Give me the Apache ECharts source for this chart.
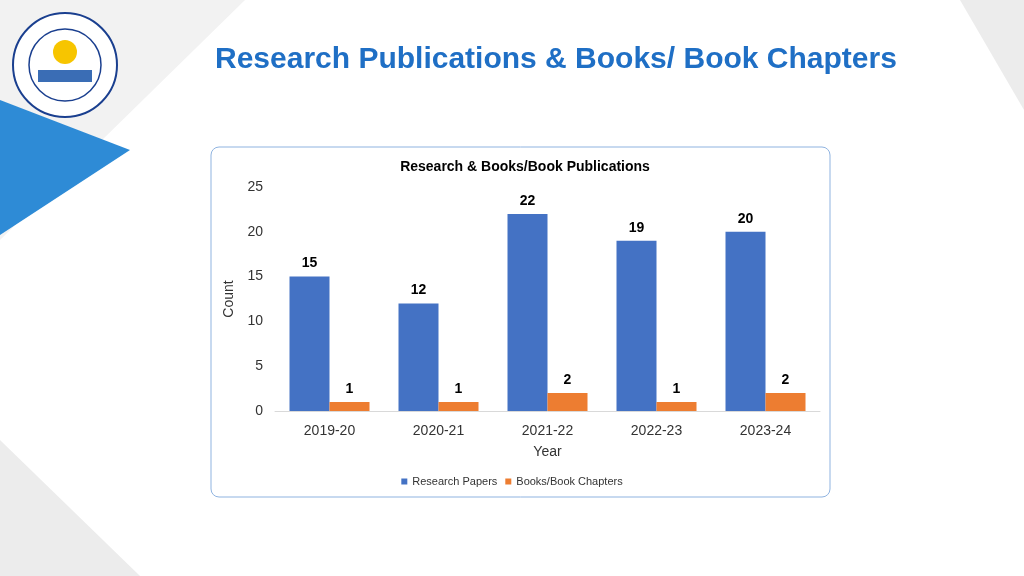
<!DOCTYPE html>
<html><head><meta charset="utf-8">
<script src="https://cdn.jsdelivr.net/npm/echarts@6/dist/echarts.min.js"></script>
<style>html,body{margin:0;padding:0;background:#fff}#c{width:1024px;height:576px}</style>
</head><body><div id="c"></div>
<script>
const categories=['2019-20','2020-21','2021-22','2022-23','2023-24'];
const researchPapers=[15,12,22,19,20];
const books=[1,1,2,1,2];
const chart=echarts.init(document.getElementById('c'));
const F='Liberation Sans, Arial, sans-serif';
chart.setOption({
 animation:false,
 graphic:[
  {type:'polygon',shape:{points:[[0,0],[245,0],[0,240]]},style:{fill:'#f2f2f2'},z:-10},
  {type:'polygon',shape:{points:[[0,100],[130,150],[0,235]]},style:{fill:'#2E8BD6'},z:-9},
  {type:'polygon',shape:{points:[[960,0],[1024,0],[1024,110]]},style:{fill:'#ececec'},z:-10},
  {type:'polygon',shape:{points:[[0,440],[140,576],[0,576]]},style:{fill:'#ececec'},z:-10},
  {type:'circle',shape:{cx:65,cy:65,r:52},style:{fill:'#fff',stroke:'#1a3f8f',lineWidth:2}},
  {type:'circle',shape:{cx:65,cy:65,r:36},style:{fill:'#fff',stroke:'#1a3f8f',lineWidth:1.5}},
  {type:'circle',shape:{cx:65,cy:52,r:12},style:{fill:'#F7C500'}},
  {type:'rect',shape:{x:38,y:70,width:54,height:12},style:{fill:'#3a6db5'}},
  {type:'text',left:215,top:45,style:{text:'Research Publications & Books/ Book Chapters',font:'bold 30px '+F,fill:'#1F6FC5'}},
  {type:'rect',shape:{x:211,y:147,width:619,height:350,r:8},style:{fill:'none',stroke:'#8FB3E0',lineWidth:1},z:-1}
 ],
 title:{text:'Research & Books/Book Publications',left:520,top:155,textAlign:'center',textStyle:{fontFamily:F,fontSize:14,fontWeight:'bold',color:'#000'}},
 legend:{bottom:84,left:'center',itemWidth:6,itemHeight:6,icon:'rect',textStyle:{fontFamily:F,fontSize:11,color:'#333'},data:['Research Papers','Books/Book Chapters']},
 grid:{left:275,right:204,top:187,bottom:165},
 xAxis:{type:'category',data:categories,name:'Year',nameLocation:'middle',nameGap:34,nameTextStyle:{fontFamily:F,fontSize:14,color:'#333'},
  axisLine:{lineStyle:{color:'#d9d9d9'}},axisTick:{show:false},axisLabel:{fontFamily:F,fontSize:14,color:'#333',margin:13}},
 yAxis:{type:'value',min:0,max:25,interval:5,name:'Count',nameLocation:'middle',nameGap:38,nameTextStyle:{fontFamily:F,fontSize:14,color:'#333'},
  splitLine:{show:false},axisLine:{show:false},axisTick:{show:false},axisLabel:{fontFamily:F,fontSize:14,color:'#333',margin:12}},
 series:[
  {name:'Research Papers',type:'bar',data:researchPapers,barWidth:40,barGap:'0%',itemStyle:{color:'#4472C4'},
   label:{show:true,position:'top',fontFamily:F,fontSize:14,fontWeight:'bold',color:'#000',distance:6}},
  {name:'Books/Book Chapters',type:'bar',data:books,barWidth:40,itemStyle:{color:'#ED7D31'},
   label:{show:true,position:'top',fontFamily:F,fontSize:14,fontWeight:'bold',color:'#000',distance:6}}
 ]
});
</script></body></html>
